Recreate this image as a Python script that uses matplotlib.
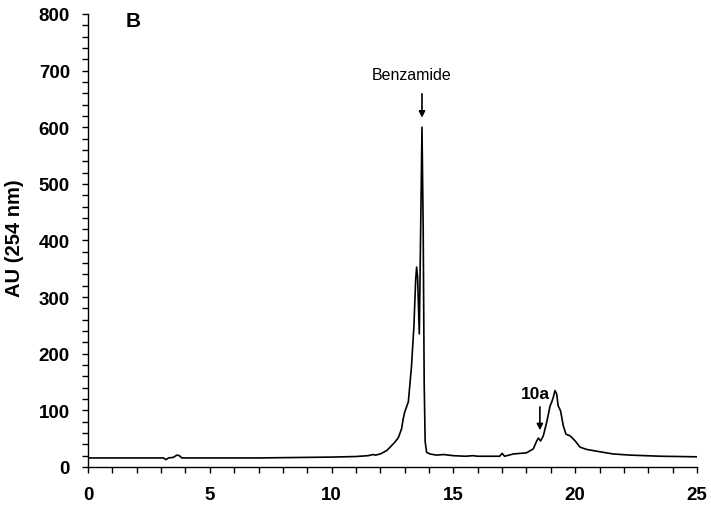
import matplotlib
matplotlib.use("Agg")
import matplotlib.pyplot as plt
from matplotlib.ticker import MultipleLocator

plt.rcParams['font.family'] = ['Liberation Sans', 'DejaVu Sans']

time_min = [0.0, 1.0, 2.0, 3.0, 3.1, 3.2, 3.3, 3.5, 3.65, 3.75, 3.85, 4.5, 6.0, 7.0, 8.0,
            9.0, 10.0, 10.5, 11.0, 11.5, 11.7, 11.8, 12.0, 12.26, 12.4, 12.6, 12.74, 12.87,
            12.94, 13.0, 13.15, 13.28, 13.38, 13.45, 13.49, 13.53, 13.6, 13.65, 13.71, 13.76,
            13.8, 13.84, 13.9, 14.04, 14.3, 14.6, 15.0, 15.5, 15.8, 16.0, 16.9, 17.0, 17.1,
            17.46, 18.0, 18.28, 18.42, 18.49, 18.58, 18.69, 18.83, 18.97, 19.03, 19.1, 19.17,
            19.24, 19.3, 19.4, 19.51, 19.62, 19.79, 20.0, 20.2, 20.47, 21.0, 21.56, 22.25,
            23.5, 25.0]
au_254 = [16, 16, 16, 16, 16, 13, 16, 17, 21, 20, 16, 16, 16, 16, 16.5,
          17, 17.5, 18, 18.5, 20, 22, 21, 23, 29, 35, 44, 52, 67,
          85, 97, 115, 178, 250, 330, 353, 335, 235, 400, 600, 420,
          150, 45, 26, 23, 21, 22, 20, 19, 20, 19, 19, 24, 19,
          23, 25, 32, 46, 51, 46, 55, 79, 108, 114, 123, 135,
          129, 108, 99, 73, 58, 55, 46, 35, 31, 27, 23, 21,
          19, 18]

peak_labels = ["Benzamide", "10a"]
peak_times = [13.71, 18.55]

fig = plt.figure(figsize=(7.11, 5.06), dpi=100)
ax = fig.add_axes([0.1238, 0.0751, 0.8565, 0.8953])
ax.plot(time_min, au_254, color='black', lw=1.2)

ax.set_xlim(0, 25)
ax.set_ylim(0, 800)
ax.xaxis.set_major_locator(MultipleLocator(5))
ax.xaxis.set_minor_locator(MultipleLocator(1))
ax.yaxis.set_major_locator(MultipleLocator(100))
ax.yaxis.set_minor_locator(MultipleLocator(20))
ax.tick_params(which='both', direction='out', length=4, width=1, color='black')
ax.tick_params(axis='y', labelsize=13.5, pad=9)
ax.tick_params(axis='x', labelsize=13.5, pad=10)
for lab in ax.get_xticklabels() + ax.get_yticklabels():
    lab.set_fontweight('bold')
for s in ['top', 'right']:
    ax.spines[s].set_visible(False)
for s in ['left', 'bottom']:
    ax.spines[s].set_linewidth(1.0)

fig.text(15 / 711, 1 - 238 / 506, "AU (254 nm)", fontsize=14.5, fontweight='bold',
         rotation=90, ha='center', va='center')

ax.annotate("", xy=(peak_times[0], 612), xytext=(peak_times[0], 664),
            arrowprops=dict(arrowstyle='-|>', color='black', lw=1.2, mutation_scale=9))
ax.text(13.3, 680, peak_labels[0], fontsize=11.5, ha='center', va='bottom')

ax.annotate("", xy=(peak_times[1], 60), xytext=(peak_times[1], 111),
            arrowprops=dict(arrowstyle='-|>', color='black', lw=1.2, mutation_scale=9))
ax.text(18.35, 117, peak_labels[1], fontsize=12.5, fontweight='bold', ha='center', va='bottom')

ax.text(1.85, 788, "B", fontsize=15, fontweight='bold', ha='center', va='center')

fig.savefig("out.png", dpi=100)
